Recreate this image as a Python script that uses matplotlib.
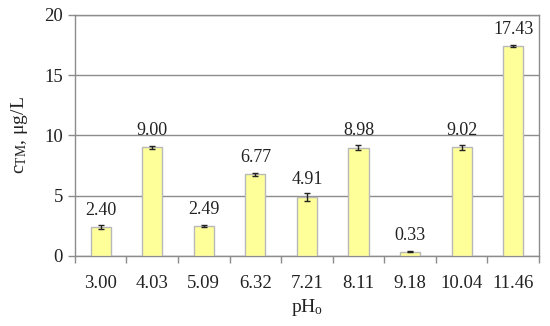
import matplotlib.pyplot as plt
import numpy as np

ph_labels = ["3.00", "4.03", "5.09", "6.32", "7.21", "8.11", "9.18", "10.04", "11.46"]
c_tm = [2.40, 9.00, 2.49, 6.77, 4.91, 8.98, 0.33, 9.02, 17.43]
c_err = [0.20, 0.15, 0.10, 0.15, 0.35, 0.20, 0.04, 0.20, 0.10]

plt.rcParams['font.family'] = ['Liberation Serif', 'DejaVu Serif']
plt.rcParams['mathtext.fontset'] = 'custom'
plt.rcParams['mathtext.rm'] = 'Liberation Serif'
plt.rcParams['mathtext.it'] = 'Liberation Serif'

fig = plt.figure(figsize=(5.5, 3.26), dpi=100)
ax = fig.add_axes([0.136, 0.215, 0.844, 0.739])

x = np.arange(len(c_tm))
ax.bar(x, c_tm, width=0.39, color="#FFFF99", edgecolor="#B8B8B8", linewidth=1.0, zorder=3)
ax.errorbar(x, c_tm, yerr=c_err, fmt="none", ecolor="#222222", elinewidth=1.0,
            capsize=2.5, capthick=1.0, zorder=4)

for xi, v in zip(x, c_tm):
    ax.annotate(f"{v:.2f}", (xi, v), xytext=(0, 6), textcoords="offset points",
                ha="center", va="bottom", fontsize=13, color="#222222")

ax.set_xlim(-0.5, len(c_tm) - 0.5)
ax.set_ylim(0, 20)
ax.set_yticks([0, 5, 10, 15, 20])
ax.yaxis.grid(True, color="#8C8C8C", linewidth=1.0, zorder=0)
ax.set_axisbelow(True)

# category labels centered, tick marks between categories
ax.set_xticks(x)
ax.set_xticklabels(ph_labels)
ax.tick_params(axis="x", length=0, pad=14, labelsize=13.5, colors="#222222")
ax.set_xticks(np.arange(-0.5, len(c_tm) + 0.5, 1), minor=True)
ax.tick_params(axis="x", which="minor", length=5, color="#8C8C8C", width=1.0)
ax.tick_params(axis="y", length=5, color="#8C8C8C", width=1.0, labelsize=13.5,
               colors="#222222")
for t in ax.yaxis.get_ticklines():
    t.set_color("#8C8C8C")

for s in ax.spines.values():
    s.set_color("#8C8C8C")
    s.set_linewidth(1.0)

ax.set_ylabel("c$_{\\mathrm{TM}}$, μg/L", fontsize=14, color="#222222", labelpad=10)
ax.set_xlabel("pH$_{\\mathrm{o}}$", fontsize=14, color="#222222", labelpad=3)

fig.savefig("out.png", dpi=100)
